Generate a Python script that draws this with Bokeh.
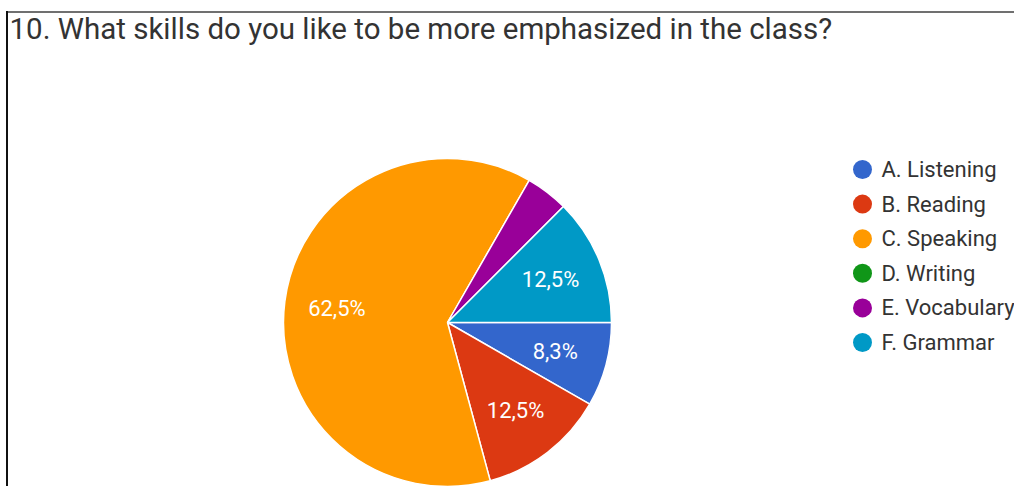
import math
from bokeh.plotting import figure
from bokeh.models import Range1d, ColumnDataSource, CDSView, IndexFilter
from bokeh.core.properties import value
from bokeh.embed import file_html
from bokeh.resources import INLINE

title_text = "10. What skills do you like to be more emphasized in the class?"
categories = ["A. Listening", "B. Reading", "C. Speaking", "D. Writing", "E. Vocabulary", "F. Grammar"]
percent = [8.3, 12.5, 62.5, 0.0, 4.2, 12.5]
slice_labels = ["8,3%", "12,5%", "62,5%", "", "", "12,5%"]
colors = ["#3366cc", "#dc3912", "#ff9900", "#109618", "#990099", "#0099c6"]

W, H = 1014, 486
p = figure(width=W, height=H, output_backend="svg", toolbar_location=None,
           x_range=Range1d(0, W), y_range=Range1d(0, H), min_border=0)
p.axis.visible = False
p.grid.visible = False
p.outline_line_color = None
p.background_fill_color = "white"
p.border_fill_color = "white"

def Y(py):
    return H - py

# frame lines from the screenshot (decoration)
p.segment(x0=[6.5], y0=[Y(11.5)], x1=[W + 5], y1=[Y(11.5)], line_color="#707070", line_width=2)
p.segment(x0=[6.5], y0=[Y(10.5)], x1=[6.5], y1=[-5], line_color="#111111", line_width=2)

# pie: starts at 3 o'clock, goes clockwise
cx, cy, R = 447, Y(322), 164
total = sum(percent)
starts, ends, lx, ly = [], [], [], []
a = 0.0
for v in percent:
    sweep = v / total * 2 * math.pi
    s = a - sweep
    starts.append(s)
    ends.append(a)
    mid = (s + a) / 2
    lx.append(cx + 0.68 * R * math.cos(mid))
    ly.append(cy + 0.68 * R * math.sin(mid))
    a = s

src = ColumnDataSource(dict(start=starts, end=ends, color=colors, lx=lx, ly=ly,
                            lab=slice_labels, cat=categories, pct=percent))
view_idx = [i for i, v in enumerate(percent) if v > 0]
p.wedge(x=cx, y=cy, radius=R, start_angle="start", end_angle="end", direction="anticlock",
        fill_color="color", line_color="white", line_width=1.5, source=src,
        view=CDSView(filter=IndexFilter(view_idx)))
p.text(x="lx", y="ly", text="lab", source=src, text_color="white",
       text_font=value("Roboto"), text_font_size="22px", text_align="center",
       text_baseline="middle")

# title
p.text(x=[9], y=[Y(28)], text=[title_text], text_font=value("Roboto"),
       text_font_size="29.5px", text_color="#333333", text_baseline="middle")

# legend
leg_y = [Y(169 + i * 34.6) for i in range(len(categories))]
p.scatter(x=[862] * len(categories), y=leg_y, size=19, fill_color=colors, line_color=None)
p.text(x=[881] * len(categories), y=leg_y, text=categories, text_font=value("Roboto"),
       text_font_size="22px", text_color="#333333", text_baseline="middle")

open("out.html", "w").write(file_html(p, INLINE))
